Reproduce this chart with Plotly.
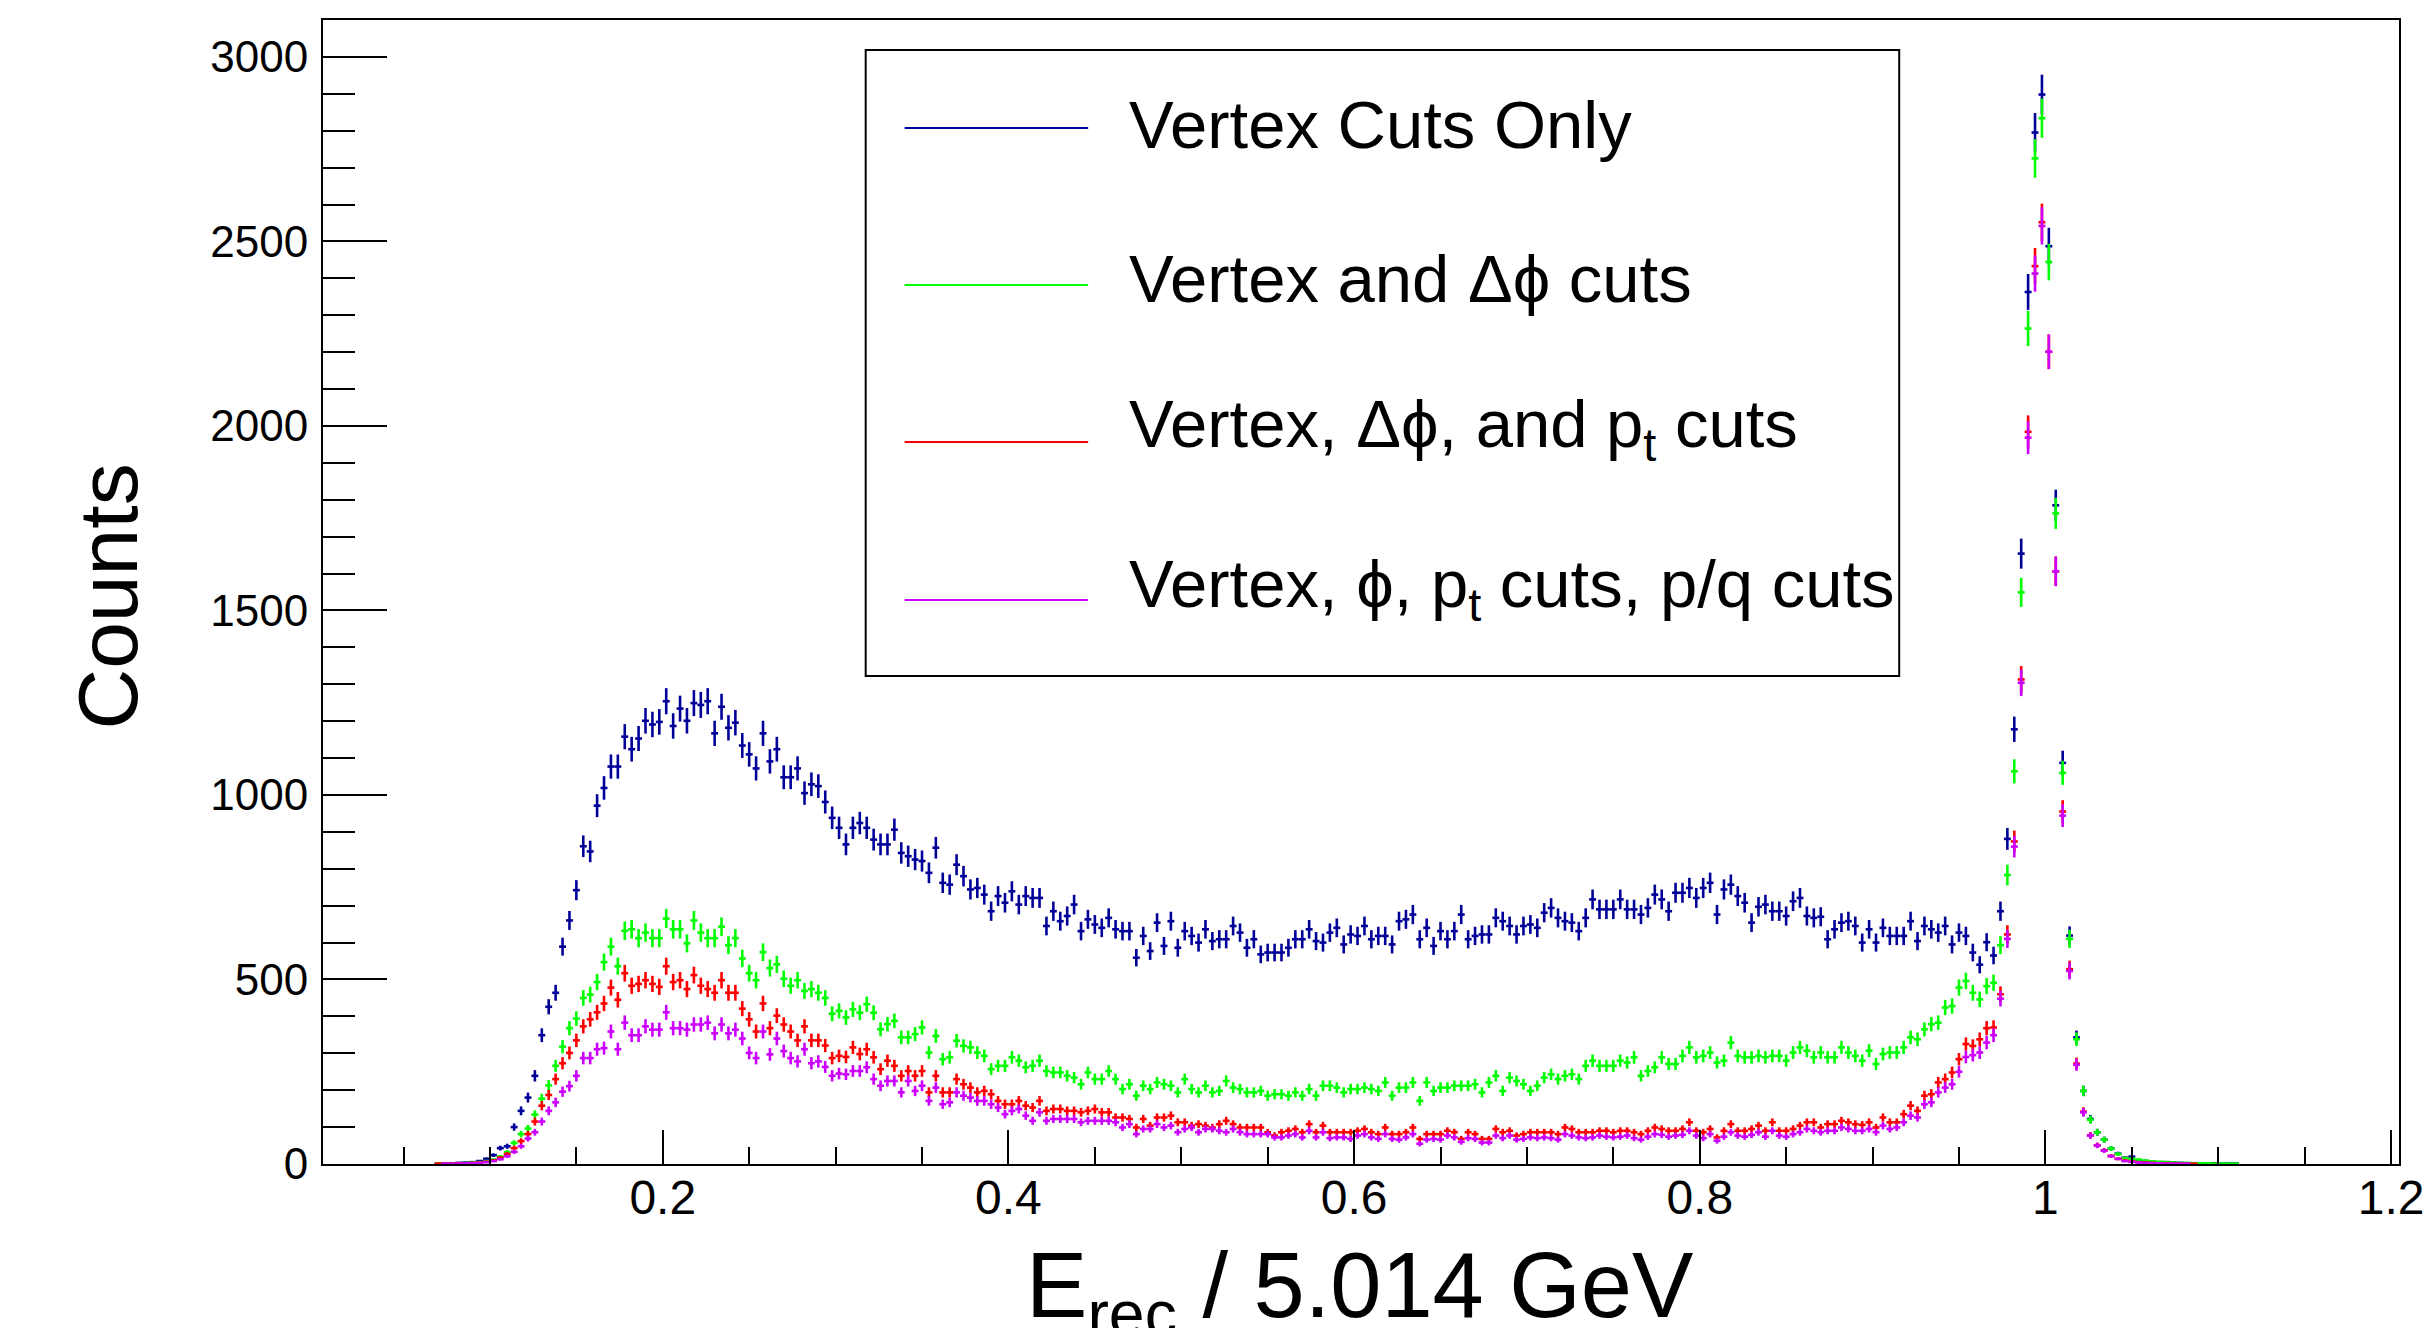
import math
import plotly.graph_objects as go

# ---------------- data (bin contents, bins of width 0.004 starting at centre 0.070) ----------------
bin_width = 0.004
first_center = 0.070

vertex_only = [
    1, 2, 2, 3, 4, 5, 8, 14, 24, 43,
    48, 100, 144, 180, 239, 349, 426, 464, 589, 660,
    742, 861, 847, 971, 1019, 1077, 1077, 1158, 1124, 1153,
    1201, 1191, 1198, 1254, 1187, 1234, 1201, 1249, 1244, 1254,
    1167, 1239, 1182, 1196, 1134, 1110, 1072, 1167, 1091, 1124,
    1048, 1048, 1072, 1005, 1029, 1024, 981, 938, 911, 866,
    911, 924, 911, 879, 866, 866, 906, 843, 834, 825,
    821, 789, 857, 762, 757, 811, 780, 744, 748, 730,
    685, 726, 708, 739, 703, 726, 721, 721, 645, 685,
    658, 672, 703, 631, 663, 649, 640, 667, 636, 631,
    631, 559, 618, 577, 654, 591, 658, 586, 631, 618,
    600, 636, 604, 609, 609, 645, 627, 586, 609, 568,
    573, 573, 573, 586, 609, 609, 636, 604, 600, 627,
    640, 595, 622, 618, 645, 609, 618, 618, 595, 658,
    663, 676, 609, 640, 591, 631, 609, 631, 676, 609,
    618, 622, 622, 667, 658, 645, 622, 645, 649, 640,
    681, 694, 667, 658, 654, 631, 667, 717, 690, 690,
    690, 717, 690, 690, 676, 694, 730, 717, 685, 735,
    735, 748, 721, 748, 762, 676, 744, 757, 726, 708,
    654, 697, 703, 685, 685, 672, 712, 721, 672, 667,
    670, 609, 636, 654, 658, 645, 600, 636, 600, 640,
    618, 618, 618, 658, 604, 645, 636, 627, 645, 595,
    627, 618, 573, 540, 601, 565, 685, 881, 1178, 1654,
    2363, 2795, 2898, 2487, 1785, 1087, 619, 343, 198, 122,
    86, 66, 42, 28, 17, 20, 10, 8, 6, 5,
    5, 4, 3, 2, 2, 2, 1, 2, 1, 1,
    1,
]

vertex_dphi = [
    1, 1, 2, 2, 3, 4, 5, 8, 12, 20,
    32, 57, 81, 96, 134, 177, 213, 266, 318, 368,
    394, 450, 459, 493, 547, 589, 536, 632, 636, 612,
    627, 612, 612, 665, 636, 636, 598, 660, 627, 612,
    612, 643, 593, 612, 557, 517, 498, 574, 531, 541,
    502, 483, 498, 469, 474, 464, 450, 407, 415, 397,
    419, 410, 433, 410, 365, 379, 388, 343, 343, 352,
    370, 302, 347, 284, 289, 334, 320, 316, 302, 293,
    257, 266, 266, 289, 280, 262, 266, 280, 252, 248,
    248, 239, 234, 216, 248, 230, 230, 252, 230, 203,
    216, 185, 212, 203, 221, 216, 212, 194, 230, 203,
    194, 212, 194, 198, 225, 207, 203, 194, 194, 198,
    185, 189, 189, 185, 194, 185, 203, 185, 212, 212,
    207, 194, 203, 203, 207, 203, 198, 221, 185, 207,
    207, 221, 171, 221, 198, 207, 207, 212, 212, 212,
    216, 194, 221, 239, 198, 234, 225, 216, 198, 212,
    234, 243, 230, 239, 243, 230, 266, 280, 266, 266,
    266, 280, 275, 289, 239, 252, 262, 289, 271, 271,
    293, 316, 289, 293, 302, 275, 280, 329, 293, 289,
    289, 293, 289, 293, 293, 280, 302, 316, 307, 289,
    302, 289, 289, 316, 302, 293, 280, 307, 271, 298,
    302, 302, 316, 343, 338, 365, 379, 383, 424, 428,
    478, 496, 464, 446, 482, 491, 593, 783, 1064, 1549,
    2264, 2725, 2834, 2444, 1763, 1060, 610, 338, 198, 120,
    86, 66, 42, 27, 16, 14, 12, 9, 7, 6,
    5, 4, 3, 3, 2, 2, 2, 1, 1, 1,
    1,
]

vertex_dphi_pt = [
    1, 1, 1, 2, 2, 3, 4, 6, 10, 17,
    27, 43, 62, 81, 115, 158, 187, 230, 273, 301,
    335, 373, 392, 411, 435, 478, 445, 517, 483, 488,
    498, 488, 480, 536, 493, 498, 474, 512, 483, 474,
    464, 498, 464, 464, 421, 392, 359, 435, 368, 402,
    378, 359, 335, 373, 335, 335, 321, 287, 293, 290,
    316, 298, 311, 289, 257, 280, 266, 239, 252, 239,
    252, 194, 239, 194, 194, 230, 216, 207, 194, 198,
    189, 171, 162, 162, 171, 158, 153, 171, 144, 149,
    149, 144, 144, 140, 144, 149, 140, 140, 126, 126,
    122, 99, 122, 104, 126, 126, 131, 113, 113, 104,
    108, 104, 99, 108, 117, 108, 99, 99, 99, 99,
    86, 77, 86, 90, 95, 86, 108, 86, 104, 86,
    86, 86, 86, 90, 95, 86, 81, 99, 81, 81,
    86, 99, 68, 81, 81, 81, 90, 86, 68, 86,
    81, 68, 68, 95, 86, 90, 77, 81, 86, 86,
    86, 86, 81, 99, 95, 86, 86, 86, 90, 90,
    86, 90, 90, 86, 81, 90, 99, 95, 90, 90,
    95, 113, 90, 86, 95, 72, 90, 108, 90, 90,
    95, 104, 90, 113, 90, 90, 95, 104, 113, 113,
    99, 108, 108, 117, 113, 108, 106, 113, 99, 126,
    113, 113, 135, 158, 144, 185, 189, 221, 230, 248,
    284, 325, 320, 338, 368, 370, 460, 622, 874, 1313,
    1984, 2433, 2552, 2201, 1606, 955, 528, 272, 142, 78,
    51, 37, 22, 14, 9, 7, 5, 4, 3, 2,
    2, 1, 1, 1, 1, 0, 0, 0, 0, 0,
    0,
]

vertex_phi_pt_pq = [
    0, 1, 1, 1, 2, 2, 3, 5, 8, 13,
    21, 33, 48, 69, 86, 115, 144, 167, 196, 211,
    239, 287, 287, 311, 314, 359, 311, 383, 349, 349,
    373, 364, 364, 411, 368, 368, 364, 378, 378, 383,
    354, 378, 354, 364, 340, 301, 287, 359, 297, 340,
    306, 287, 278, 311, 273, 278, 263, 239, 245, 243,
    252, 252, 262, 230, 212, 225, 225, 194, 225, 198,
    212, 171, 207, 162, 167, 194, 185, 180, 171, 171,
    162, 153, 135, 144, 149, 131, 117, 140, 117, 122,
    122, 122, 122, 113, 117, 117, 117, 117, 113, 99,
    108, 81, 95, 95, 108, 99, 104, 86, 95, 99,
    86, 95, 95, 90, 86, 95, 86, 81, 81, 81,
    81, 72, 72, 77, 81, 72, 90, 72, 86, 70,
    72, 72, 68, 77, 81, 72, 68, 81, 68, 66,
    72, 81, 55, 66, 68, 66, 77, 72, 60, 70,
    68, 58, 58, 77, 70, 77, 66, 68, 72, 70,
    72, 70, 66, 81, 77, 72, 70, 72, 77, 74,
    72, 74, 77, 70, 66, 74, 81, 79, 74, 77,
    79, 90, 77, 70, 81, 63, 74, 86, 77, 74,
    79, 86, 74, 90, 77, 74, 81, 86, 95, 90,
    86, 90, 90, 99, 95, 90, 90, 95, 86, 104,
    95, 99, 113, 131, 126, 162, 167, 194, 207, 216,
    250, 290, 295, 302, 329, 349, 448, 610, 860, 1304,
    1968, 2413, 2542, 2201, 1606, 944, 523, 269, 140, 77,
    50, 36, 21, 14, 8, 6, 4, 3, 2, 2,
    1, 1, 1, 1, 0, 0, 0, 0, 0, 0,
    0,
]

series_names = [
    "Vertex Cuts Only",
    "Vertex and Δϕ cuts",
    "Vertex, Δϕ, and p<sub>t</sub> cuts",
    "Vertex, ϕ, p<sub>t</sub> cuts, p/q cuts",
]
series_values = [vertex_only, vertex_dphi, vertex_dphi_pt, vertex_phi_pt_pq]
series_colors = ["#000099", "#00ff00", "#ff0000", "#cc00ff"]

x_tick_vals = [0.2, 0.4, 0.6, 0.8, 1.0, 1.2]
x_tick_text = ["0.2", "0.4", "0.6", "0.8", "1", "1.2"]
y_tick_vals = [0, 500, 1000, 1500, 2000, 2500, 3000]
y_tick_text = ["0", "500", "1000", "1500", "2000", "2500", "3000"]

FONT = "Liberation Sans, Arial, Helvetica, sans-serif"

# ---------------- figure ----------------
fig = go.Figure()
for name, vals, col in zip(series_names, series_values, series_colors):
    n = len(vals)
    xs = [round(first_center + i * bin_width, 4) for i in range(n)]
    ys = [v if v > 0 else None for v in vals]
    errs = [math.sqrt(v) if v > 0 else 0 for v in vals]
    fig.add_trace(go.Scatter(
        x=xs, y=ys, mode="markers", name=name, showlegend=False,
        marker=dict(size=1, color=col),
        error_y=dict(type="data", array=errs, visible=True, color=col,
                     thickness=2.6, width=0),
        error_x=dict(type="constant", value=bin_width / 2, visible=True,
                     color=col, thickness=2.6, width=0),
    ))

# frame geometry in pixels
W, H = 2436, 1328
L, R, T, B = 323, 2404, 20, 1164

def px(xp):
    return (xp - L) / (R - L)

def py(yp):
    return (B - yp) / (B - T)

fig.update_layout(
    width=W, height=H,
    margin=dict(l=L, r=W - R, t=T, b=H - B, pad=0),
    paper_bgcolor="white", plot_bgcolor="white",
    font=dict(family=FONT, color="black"),
    showlegend=False,
)

fig.update_xaxes(
    range=[0.0034, 1.2046], showgrid=False, zeroline=False,
    showline=True, linecolor="black", linewidth=2, mirror=True,
    ticks="inside", ticklen=34, tickwidth=1.5, tickcolor="black",
    tickvals=x_tick_vals, ticktext=x_tick_text,
    tickfont=dict(family=FONT, size=48, color="black"),
    ticklabelstandoff=-10,
    minor=dict(dtick=0.05, tick0=0, ticks="inside", ticklen=17,
               tickwidth=1.5, tickcolor="black", showgrid=False),
)
fig.update_yaxes(
    range=[0, 3100], showgrid=False, zeroline=False,
    showline=True, linecolor="black", linewidth=2, mirror=True,
    ticks="inside", ticklen=64, tickwidth=1.5, tickcolor="black",
    tickvals=y_tick_vals, ticktext=y_tick_text,
    tickfont=dict(family=FONT, size=44, color="black"),
    ticklabelstandoff=4,
    minor=dict(dtick=100, tick0=0, ticks="inside", ticklen=32,
               tickwidth=1.5, tickcolor="black", showgrid=False),
)

# axis titles
fig.add_annotation(
    text="Counts", textangle=-90, xref="paper", yref="paper",
    x=px(107), y=py(597), xanchor="center", yanchor="middle",
    showarrow=False, font=dict(family=FONT, size=84, color="black"),
)
fig.add_annotation(
    text="E<sub>rec</sub> / 5.014 GeV", xref="paper", yref="paper",
    x=px(1362), y=py(1292), xanchor="center", yanchor="middle",
    showarrow=False, font=dict(family=FONT, size=92, color="black"),
)

# legend box (drawn ROOT-style with long line samples)
fig.add_shape(type="rect", xref="paper", yref="paper",
              x0=px(867), x1=px(1903), y0=py(676), y1=py(50),
              line=dict(color="black", width=2), fillcolor="white", layer="above")
line_y = [128, 285, 442, 600]
text_y = [124, 278, 428, 588]
for name, col, ly, ty in zip(series_names, series_colors, line_y, text_y):
    fig.add_shape(type="line", xref="paper", yref="paper",
                  x0=px(906), x1=px(1090), y0=py(ly), y1=py(ly),
                  line=dict(color=col, width=2), layer="above")
    fig.add_annotation(
        text=name, xref="paper", yref="paper", x=px(1129), y=py(ty),
        xanchor="left", yanchor="middle", showarrow=False,
        font=dict(family=FONT, size=67, color="black"),
    )

fig.write_html(
    "out.html",
    config={"displayModeBar": False},
    post_script="document.body.style.margin='0';document.body.style.overflow='hidden';",
)
